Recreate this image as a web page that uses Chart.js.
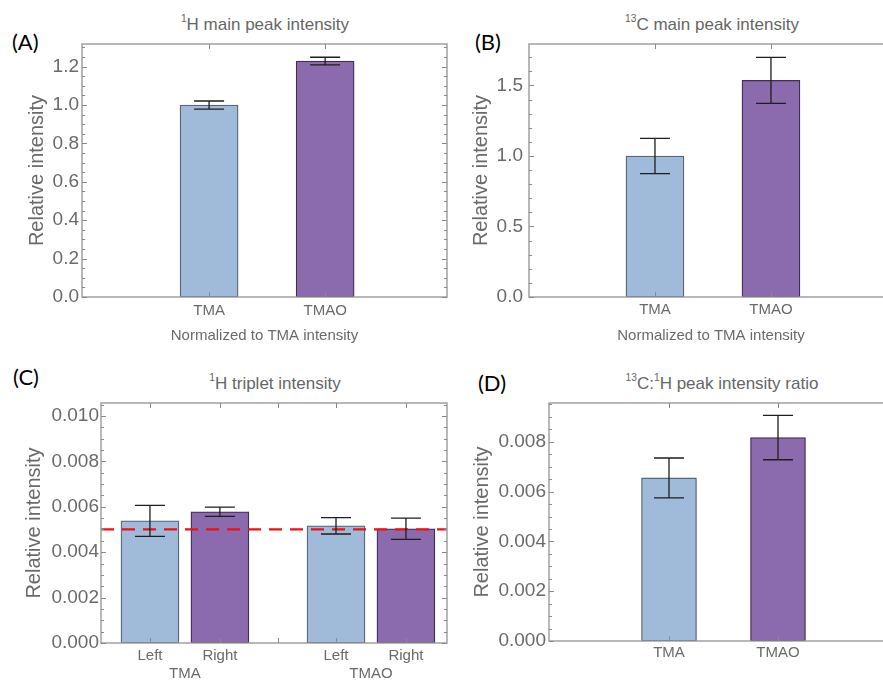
<!DOCTYPE html>
<html>
<head>
<meta charset="utf-8">
<script src="https://cdn.jsdelivr.net/npm/chart.js@4.4.1/dist/chart.umd.min.js"></script>
<style>
  html, body { margin:0; padding:0; background:#fff; }
  body { width:883px; height:681px; overflow:hidden; position:relative; font-family:"Liberation Sans", Arial, sans-serif; }
  canvas { position:absolute; }
  .ttl { position:absolute; color:#666; font-size:17px; white-space:nowrap; line-height:1; transform:translate(-50%,-50%); }
  .ttl sup { font-size:60%; vertical-align:0.75em; line-height:0; }
  .lab { position:absolute; color:#000; font-family:Lato, "Liberation Sans", sans-serif; font-size:22px; line-height:1; }
</style>
</head>
<body>
<div class="lab" style="left:12px;top:31px;">(A)</div>
<div class="lab" style="left:475px;top:31px;">(B)</div>
<div class="lab" style="left:13px;top:366px;">(C)</div>
<div class="lab" style="left:478px;top:372px;">(D)</div>
<div class="ttl" style="left:265px;top:24px;"><sup>1</sup>H main peak intensity</div>
<div class="ttl" style="left:712px;top:24px;"><sup>13</sup>C main peak intensity</div>
<div class="ttl" style="left:275px;top:383px;"><sup>1</sup>H triplet intensity</div>
<div class="ttl" style="left:722px;top:383px;"><sup>13</sup>C:<sup>1</sup>H peak intensity ratio</div>
<script>
// ---------------- DATA ----------------
const categoriesA = ['TMA', 'TMAO'];
const valuesA = [1.0, 1.229];
const errorsA = [0.021, 0.020];
const yTicksA = [0, 0.2, 0.4, 0.6, 0.8, 1.0, 1.2];

const categoriesB = ['TMA', 'TMAO'];
const valuesB = [1.0, 1.536];
const errorsB = [0.125, 0.163];
const yTicksB = [0, 0.5, 1.0, 1.5];

const groupsC = ['TMA', 'TMAO'];
const sidesC = ['Left', 'Right'];
const valuesC = [0.00538, 0.00578, 0.00516, 0.00503];
const errorsC = [0.00068, 0.00020, 0.00036, 0.00047];
const refLineC = 0.005;
const yTicksC = [0, 0.002, 0.004, 0.006, 0.008, 0.010];

const categoriesD = ['TMA', 'TMAO'];
const valuesD = [0.00655, 0.00817];
const errorsD = [0.00080, 0.00089];
const yTicksD = [0, 0.002, 0.004, 0.006, 0.008];

const xTitleAB = 'Normalized to TMA intensity';
const yTitle = 'Relative intensity';

// ---------------- STYLE ----------------
const FONT = '"Liberation Sans", Arial, sans-serif';
const GRAY = '#6a6a6a';
const BLUE = '#a0bbd9', BLUE_EDGE = '#56657a';
const PURPLE = '#8b6aad', PURPLE_EDGE = '#3f2e58';

const deco = {
  id: 'deco',
  afterDatasetsDraw(chart, args, o) {
    const { ctx, chartArea: a, scales: { x, y } } = chart;
    ctx.save();
    // reference line
    if (o.refLine != null) {
      const py = y.getPixelForValue(o.refLine);
      ctx.strokeStyle = '#f01010';
      ctx.lineWidth = 2.3;
      ctx.setLineDash([13, 8]);
      ctx.beginPath(); ctx.moveTo(a.left, py); ctx.lineTo(a.right, py); ctx.stroke();
      ctx.setLineDash([]);
    }
    // error bars
    const meta = chart.getDatasetMeta(0);
    const ds = chart.data.datasets[0];
    ctx.strokeStyle = '#1e1e1e';
    ctx.lineWidth = 1.3;
    meta.data.forEach((el, i) => {
      const v = ds.data[i].y, e = ds.errors[i];
      const yt = y.getPixelForValue(v + e), yb = y.getPixelForValue(v - e);
      const cx = el.x, hw = o.cap;
      ctx.beginPath();
      ctx.moveTo(cx, yt); ctx.lineTo(cx, yb);
      ctx.moveTo(cx - hw, yt); ctx.lineTo(cx + hw, yt);
      ctx.moveTo(cx - hw, yb); ctx.lineTo(cx + hw, yb);
      ctx.stroke();
    });
    // frame
    ctx.strokeStyle = '#9a9a9a';
    ctx.lineWidth = 1.4;
    ctx.strokeRect(a.left, a.top, a.right - a.left, a.bottom - a.top);
    // y ticks (left & right, inward)
    ctx.lineWidth = 1;
    ctx.strokeStyle = '#8a8a8a';
    const n = Math.floor(y.max / o.minor + 1e-6);
    for (let k = 0; k <= n; k++) {
      const v = k * o.minor;
      const major = o.yTicks.some(t => Math.abs(t - v) < o.minor * 1e-3);
      const len = major ? 5 : 3;
      const py = Math.round(y.getPixelForValue(v)) + 0.5;
      ctx.beginPath();
      ctx.moveTo(a.left, py); ctx.lineTo(a.left + len, py);
      ctx.moveTo(a.right, py); ctx.lineTo(a.right - len, py);
      ctx.stroke();
    }
    // x ticks (top & bottom, inward)
    o.xTicks.forEach(v => {
      const px = Math.round(x.getPixelForValue(v)) + 0.5;
      ctx.beginPath();
      ctx.moveTo(px, a.bottom); ctx.lineTo(px, a.bottom - 5);
      ctx.moveTo(px, a.top); ctx.lineTo(px, a.top + 5);
      ctx.stroke();
    });
    ctx.restore();
  }
};

function panel(c) {
  const cv = document.createElement('canvas');
  cv.width = c.w; cv.height = c.h;
  cv.style.left = c.left + 'px'; cv.style.top = c.top + 'px';
  cv.style.width = c.w + 'px'; cv.style.height = c.h + 'px';
  document.body.appendChild(cv);
  new Chart(cv.getContext('2d'), {
    type: 'bar',
    data: {
      datasets: [{
        data: c.xs.map((x, i) => ({ x: x, y: c.values[i] })),
        errors: c.errors,
        backgroundColor: c.colors,
        borderColor: c.edges,
        borderWidth: 1.3,
        borderSkipped: false,
        barThickness: c.barW
      }]
    },
    options: {
      responsive: false,
      animation: false,
      devicePixelRatio: 1,
      layout: { padding: { top: c.plot.t - c.top, right: c.left + c.w - c.plot.r, left: 0, bottom: 0 } },
      plugins: {
        legend: { display: false },
        tooltip: { enabled: false },
        deco: { refLine: c.refLine, cap: 15, minor: c.minor, yTicks: c.yTicks, xTicks: c.frameXTicks }
      },
      scales: {
        x: {
          type: 'linear', min: c.xMin, max: c.xMax, offset: false,
          grid: { display: false, drawTicks: false }, border: { display: false },
          afterFit: s => { s.height = c.top + c.h - c.plot.b; },
          afterBuildTicks: s => { s.ticks = c.xTickVals.map(v => ({ value: v })); },
          ticks: {
            autoSkip: false, maxRotation: 0, minRotation: 0, padding: c.xPad, color: GRAY,
            font: { family: FONT, size: 15, lineHeight: 1.2 },
            callback: (v, i) => c.xTickLabels[i]
          },
          title: {
            display: !!c.xTitle, text: c.xTitle || '', color: GRAY,
            font: { family: FONT, size: 15, lineHeight: 1.2 }, padding: { top: 0, bottom: c.xTitlePad || 0 }
          }
        },
        y: {
          type: 'linear', min: 0, max: c.yMax,
          grid: { display: false, drawTicks: false }, border: { display: false },
          afterFit: s => { s.width = c.plot.l - c.left; },
          afterBuildTicks: s => { s.ticks = c.yTicks.map(v => ({ value: v })); },
          ticks: {
            padding: c.yPad, color: GRAY, font: { family: FONT, size: 19 },
            callback: v => Number(v).toFixed(c.dec)
          },
          title: {
            display: true, text: yTitle, color: GRAY,
            font: { family: FONT, size: 20, lineHeight: 1.2 }, padding: { top: c.yTitlePad, bottom: 0 }
          }
        }
      }
    },
    plugins: [deco]
  });
}

// Panel A
const xsA = categoriesA.map((_, i) => i + 1);
panel({
  left: 0, top: 0, w: 460, h: 350, plot: { l: 82, t: 44, r: 447, b: 297 },
  xs: xsA, values: valuesA, errors: errorsA,
  colors: [BLUE, PURPLE], edges: [BLUE_EDGE, PURPLE_EDGE], barW: 58,
  xMin: -0.095, xMax: 3.05, xTickVals: xsA, xTickLabels: categoriesA, frameXTicks: xsA,
  xPad: 5, xTitle: xTitleAB, xTitlePad: 5,
  yMax: 1.318, yTicks: yTicksA, dec: 1, minor: 0.05, yPad: 3, yTitlePad: 25
});

// Panel B
const xsB = categoriesB.map((_, i) => i + 1);
panel({
  left: 440, top: 0, w: 470, h: 350, plot: { l: 529, t: 44, r: 893, b: 297 },
  xs: xsB, values: valuesB, errors: errorsB,
  colors: [BLUE, PURPLE], edges: [BLUE_EDGE, PURPLE_EDGE], barW: 58,
  xMin: -0.086, xMax: 3.052, xTickVals: xsB, xTickLabels: categoriesB, frameXTicks: xsB,
  xPad: 4, xTitle: xTitleAB, xTitlePad: 5,
  yMax: 1.794, yTicks: yTicksB, dec: 1, minor: 0.1, yPad: 6, yTitlePad: 29
});

// Panel C (grouped)
const groupStepC = 2.66;
const xsC = [], colorsC = [], edgesC = [], tickValsC = [], tickLabelsC = [], frameTicksC = [];
groupsC.forEach((g, gi) => {
  sidesC.forEach((s, si) => {
    const p = gi * groupStepC + si;
    xsC.push(p);
    colorsC.push(si === 0 ? BLUE : PURPLE);
    edgesC.push(si === 0 ? BLUE_EDGE : PURPLE_EDGE);
  });
});
groupsC.forEach((g, gi) => {
  const base = gi * groupStepC;
  tickValsC.push(base, base + (sidesC.length - 1) / 2, base + 1);
  tickLabelsC.push(sidesC[0], ['', g], sidesC[1]);
});
frameTicksC.push(...xsC.slice(0, 2), (xsC[1] + xsC[2]) / 2, ...xsC.slice(2));
panel({
  left: 0, top: 340, w: 460, h: 341, plot: { l: 101, t: 403, r: 447, b: 643 },
  xs: xsC, values: valuesC, errors: errorsC,
  colors: colorsC, edges: edgesC, barW: 58,
  xMin: -0.70, xMax: 4.247, xTickVals: tickValsC, xTickLabels: tickLabelsC, frameXTicks: frameTicksC,
  xPad: 4, xTitle: null,
  yMax: 0.01057, yTicks: yTicksC, dec: 3, minor: 0.0005, yPad: 2, yTitlePad: 22,
  refLine: refLineC
});

// Panel D
const xsD = categoriesD.map((_, i) => i + 1);
panel({
  left: 440, top: 340, w: 470, h: 341, plot: { l: 549, t: 403, r: 892, b: 641 },
  xs: xsD, values: valuesD, errors: errorsD,
  colors: [BLUE, PURPLE], edges: [BLUE_EDGE, PURPLE_EDGE], barW: 55,
  xMin: -0.101, xMax: 3.046, xTickVals: xsD, xTickLabels: categoriesD, frameXTicks: xsD,
  xPad: 3, xTitle: null,
  yMax: 0.00956, yTicks: yTicksD, dec: 3, minor: 0.0005, yPad: 3, yTitlePad: 30
});
</script>
</body>
</html>
